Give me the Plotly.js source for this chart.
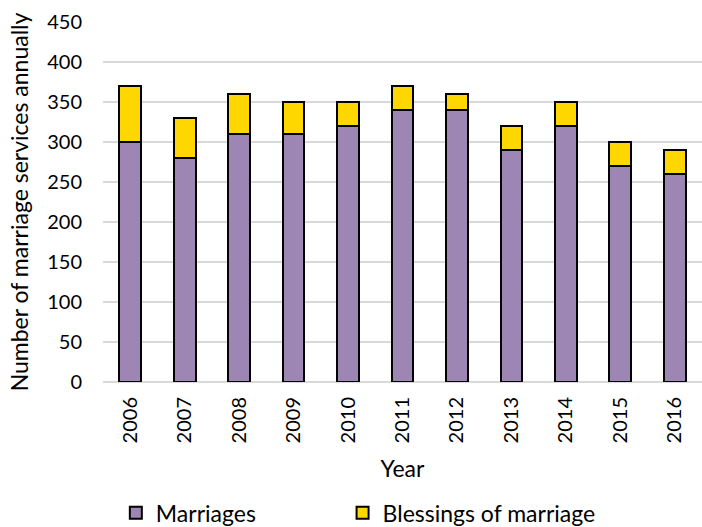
<!DOCTYPE html>
<html><head><meta charset="utf-8">
<script src="https://cdn.plot.ly/plotly-3.0.1.min.js"></script>
<style>html,body{margin:0;padding:0;background:#fff}#chart{width:702px;height:527px}</style>
</head><body><div id="chart"></div>
<script>
const years = ["2006","2007","2008","2009","2010","2011","2012","2013","2014","2015","2016"];
const marriages = [300,280,310,310,320,340,340,290,320,270,260];
const blessings = [70,50,50,40,30,30,20,30,30,30,30];
const yTicks = [0,50,100,150,200,250,300,350,400,450];

const fontFam = "Lato, 'Open Sans', sans-serif";
const traces = [
  {type:"bar", name:"Marriages", x:years, y:marriages, legend:"legend",
   marker:{color:"#9E86B4", line:{color:"#000", width:2}}},
  {type:"bar", name:"Blessings of marriage", x:years, y:blessings, legend:"legend2",
   marker:{color:"#FFD700", line:{color:"#000", width:2}}}
];
const legBase = {orientation:"h", xref:"container", yref:"container", y:0.027,
                 xanchor:"left", yanchor:"middle", font:{size:23}, itemwidth:30};
const layout = {
  width:702, height:527, barmode:"stack", bargap:0.6,
  margin:{l:103, r:0, t:22, b:145},
  paper_bgcolor:"#fff", plot_bgcolor:"#fff",
  font:{family:fontFam, size:20, color:"#000"},
  showlegend:true,
  legend:Object.assign({}, legBase, {x:0.165}),
  legend2:Object.assign({}, legBase, {x:0.488}),
  xaxis:{type:"category", tickangle:-90, showgrid:false, ticks:"", zeroline:false,
         showline:false, tickfont:{size:20}, automargin:false, ticklabelstandoff:10,
         title:{text:"Year", font:{size:23}, standoff:18}},
  yaxis:{range:[0,450], tickvals:yTicks, showgrid:true, gridcolor:"#D9D9D9", gridwidth:1.5,
         zeroline:true, zerolinecolor:"#D9D9D9", zerolinewidth:1.5, automargin:false,
         ticks:"", tickfont:{size:20}, ticklabelstandoff:20,
         title:{text:"Number of marriage services annually", font:{size:23}, standoff:12}}
};
Plotly.newPlot("chart", traces, layout, {displayModeBar:false, staticPlot:true});
</script></body></html>
